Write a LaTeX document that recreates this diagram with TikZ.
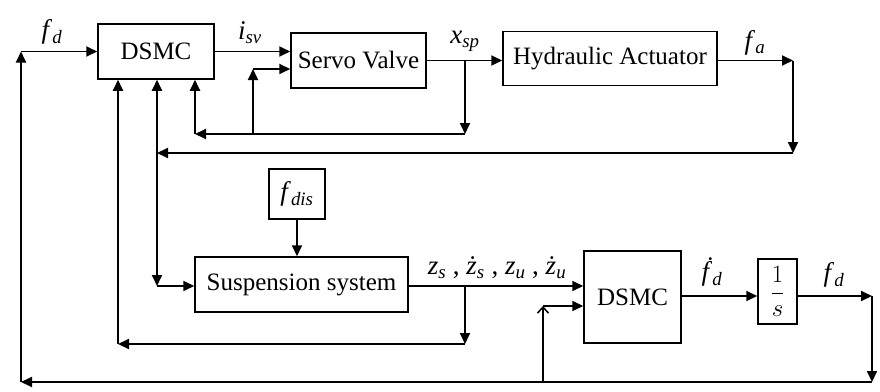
\documentclass[tikz,border=0pt]{standalone}
\usepackage{fontspec}
\setmainfont{Liberation Serif}
\usetikzlibrary{arrows.meta}
\newcommand\vlab[2]{\textit{#1}\textsubscript{\textit{#2}}}
\begin{document}
\begin{tikzpicture}[x=1pt,y=-1pt,
  blk/.style={draw,line width=1.5pt,inner sep=0pt,font=\fontsize{25}{28}\selectfont},
  lbl/.style={inner sep=0pt,font=\fontsize{27}{30}\selectfont},
  wire/.style={line width=1.8pt},
  >={Triangle[length=11pt,width=10pt]}]
\useasboundingbox[fill=white] (0,0) rectangle (880,391);
% blocks
\node[blk,minimum width=116pt,minimum height=55pt] (dsmcA) at (156,51.5) {DSMC};
\node[blk,minimum width=135pt,minimum height=55pt] (servo) at (358.5,60.5) {Servo Valve};
\node[blk,minimum width=214pt,minimum height=54pt] (hyd) at (610,58.5) {Hydraulic Actuator};
\node[blk,minimum width=56pt,minimum height=50pt,font=\fontsize{27}{30}\selectfont] (fdis) at (297,194) {\vlab{f}{dis}};
\node[blk,minimum width=213pt,minimum height=55pt] (susp) at (301.5,284.5) {Suspension system};
\node[blk,minimum width=97pt,minimum height=92pt] (dsmcB) at (632.5,297) {DSMC};
\node[blk,minimum width=39pt,minimum height=65pt] (integ) at (777.5,291.5) {$\displaystyle\frac{1}{s}$};
% labels
\node[lbl] (lfd) at (52,32) {\vlab{f}{d}};
\node[lbl] (lisv) at (250,33) {\vlab{i}{sv}};
\node[lbl] (lxsp) at (465,41) {\vlab{x}{sp}};
\node[lbl] (lfa) at (755,43) {\vlab{f}{a}};
\node[lbl] (lz) at (497,268) {\vlab{z}{s} , \vlab{\.z}{s} , \vlab{z}{u} , \vlab{\.z}{u}};
\node[lbl] (lfdd) at (712,272) {\vlab{\.f}{d}};
\node[lbl] (lfd2) at (834,275) {\vlab{f}{d}};
% junction coordinates
\coordinate (bl) at (21,382);
\coordinate (tl) at (21,51.5);
\coordinate (xs) at (465,60.5);
\coordinate (xsd) at (465,134);
\coordinate (fb1) at (195,134);
\coordinate (fb1b) at (253,134);
\coordinate (fb1c) at (253,69);
\coordinate (fa) at (793,60.5);
\coordinate (fad) at (793,153);
\coordinate (fb2) at (157,153);
\coordinate (fb2d) at (157,286);
\coordinate (zs) at (465,286);
\coordinate (zsd) at (465,344);
\coordinate (fb3) at (118,344);
\coordinate (fd) at (872,296);
\coordinate (br) at (872,382);
\coordinate (fbb) at (543,382);
\coordinate (fbbc) at (543,306);
% connectors
\draw[wire,->] (bl) -- (tl);
\draw[wire,->] (tl) -- (dsmcA.west);
\draw[wire,->] (dsmcA.east) -- (servo.west |- dsmcA.east);
\draw[wire,->] (servo.east) -- (hyd.west |- servo.east);
\draw[wire,->] (xs) -- (xsd);
\draw[wire,->] (xsd) -- (fb1);
\draw[wire,->] (fb1) -- (fb1 |- dsmcA.south);
\draw[wire,->] (fb1b) -- (fb1c);
\draw[wire,->] (fb1c) -- (servo.west |- fb1c);
\draw[wire,->] (hyd.east |- fa) -- (fa);
\draw[wire,->] (fa) -- (fad);
\draw[wire,->] (fad) -- (fb2);
\draw[wire,->] (fb2) -- (fb2 |- dsmcA.south);
\draw[wire,->] (fb2) -- (fb2d);
\draw[wire,->] (fb2d) -- (susp.west |- fb2d);
\draw[wire,->] (fdis.south) -- (susp.north -| fdis.south);
\draw[wire,->] (susp.east |- zs) -- (dsmcB.west |- zs);
\draw[wire,->] (zs) -- (zsd);
\draw[wire,->] (zsd) -- (fb3);
\draw[wire,->] (fb3) -- (fb3 |- dsmcA.south);
\draw[wire,->] (dsmcB.east |- fd) -- (integ.west |- fd);
\draw[wire,->] (integ.east |- fd) -- (fd);
\draw[wire,->] (fd) -- (br);
\draw[wire,->] (br) -- (bl);
\draw[wire,-{Straight Barb[length=6pt,width=11pt,line width=1.5pt]}] (fbb) -- (fbbc);
\draw[wire,->] (fbbc) -- (dsmcB.west |- fbbc);
\end{tikzpicture}
\end{document}
